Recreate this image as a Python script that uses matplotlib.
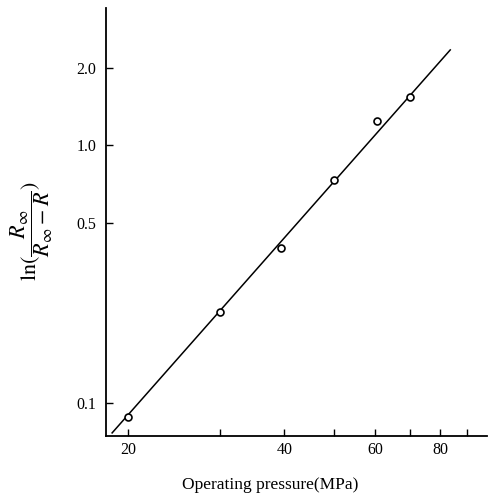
import matplotlib
matplotlib.use("Agg")
import matplotlib.pyplot as plt
from matplotlib.ticker import FixedLocator, NullLocator, FixedFormatter

# Data
pressure = [20, 30, 39.5, 50, 60.5, 70]
ln_ratio = [0.088, 0.225, 0.40, 0.734, 1.24, 1.54]
fit_x = [18.6, 83.7]
fit_y = [0.0765, 2.35]

x_ticks = [20, 30, 40, 50, 60, 70, 80, 90]
x_ticklabels = ["20", "", "40", "", "60", "", "80", ""]
y_ticks = [0.1, 0.5, 1.0, 2.0]
y_ticklabels = ["0.1", "0.5", "1.0", "2.0"]

plt.rcParams['font.family'] = ['Liberation Serif', 'DejaVu Serif']
plt.rcParams['mathtext.fontset'] = 'stix'

fig = plt.figure(figsize=(4.93, 4.97), dpi=100)
ax = fig.add_axes([0.215, 0.1227, 0.773, 0.8613])

ax.plot(fit_x, fit_y, color='black', lw=1.1)
ax.plot(pressure, ln_ratio, 'o', ms=5, mfc='white', mec='black', mew=1.2)

ax.set_xscale('log')
ax.set_yscale('log')
ax.set_xlim(18.1, 98.6)
ax.set_ylim(0.0744, 3.42)

ax.xaxis.set_major_locator(FixedLocator(x_ticks))
ax.xaxis.set_major_formatter(FixedFormatter(x_ticklabels))
ax.xaxis.set_minor_locator(NullLocator())
ax.yaxis.set_major_locator(FixedLocator(y_ticks))
ax.yaxis.set_major_formatter(FixedFormatter(y_ticklabels))
ax.yaxis.set_minor_locator(NullLocator())

for s in ['top', 'right']:
    ax.spines[s].set_visible(False)
for s in ['left', 'bottom']:
    ax.spines[s].set_linewidth(1.3)

ax.tick_params(direction='in', length=5, width=1, labelsize=11.5, colors='black')
ax.tick_params(axis='y', pad=7)
ax.tick_params(axis='x', pad=4)

ax.set_xlabel('Operating pressure(MPa)', fontsize=12.5)
ax.xaxis.set_label_coords(0.43, -0.096)
ax.set_ylabel(r'$\mathrm{ln}(\dfrac{R_{\infty}}{R_{\infty}-R})$', fontsize=16)
ax.yaxis.set_label_coords(-0.135, 0.48)

fig.savefig('out.png', dpi=100)
